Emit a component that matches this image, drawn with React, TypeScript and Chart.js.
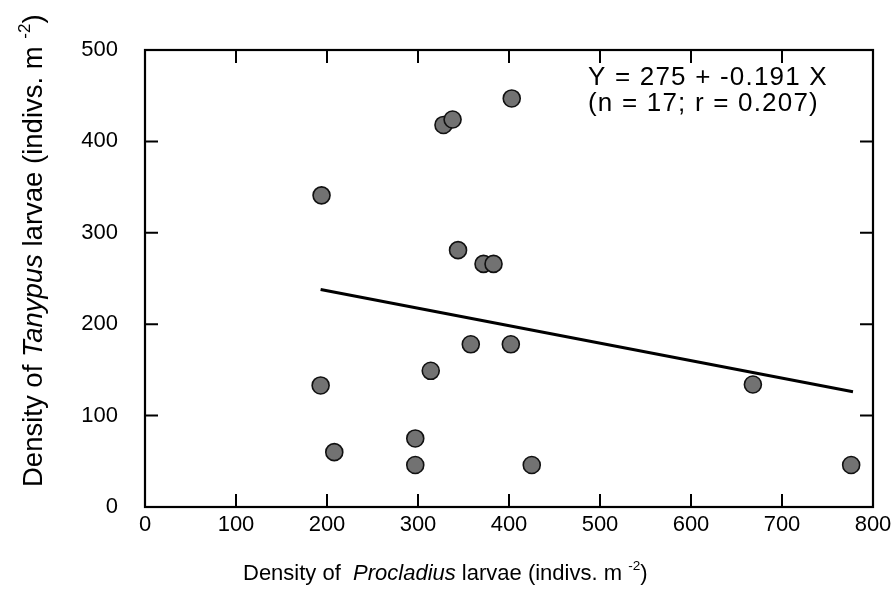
import React, { useEffect, useRef } from "react";
import { Chart, registerables } from "chart.js";

Chart.register(...registerables);

// Data
const proclDensity = [403, 328, 338, 194, 344, 372, 383, 358, 402, 314, 193, 297, 208, 297, 425, 668, 776];
const tanypDensity = [447, 418, 424, 341, 281, 266, 266, 178, 178, 149, 133, 75, 60, 46, 46, 134, 46];

// Regression line endpoints (Y = 275 + -0.191 X)
const regX = [193, 778];
const regY = [238, 126];

const xTickValues = [0, 100, 200, 300, 400, 500, 600, 700, 800];
const yTickValues = [0, 100, 200, 300, 400, 500];

const equationLines = ["Y = 275 + -0.191 X", "(n = 17; r = 0.207)"];

type Seg = { t: string; italic?: boolean; sup?: boolean };
const yTitle: Seg[] = [
  { t: "Density of " },
  { t: "Tanypus", italic: true },
  { t: " larvae (indivs. m " },
  { t: "-2", sup: true },
  { t: ")" },
];
const xTitle: Seg[] = [
  { t: "Density of  " },
  { t: "Procladius", italic: true },
  { t: " larvae (indivs. m " },
  { t: "-2", sup: true },
  { t: ")" },
];

const FONT = '"Liberation Sans", Arial, Helvetica, sans-serif';

function drawSegs(ctx: CanvasRenderingContext2D, segs: Seg[], size: number) {
  let x = 0;
  for (const s of segs) {
    const fs = s.sup ? size * 0.62 : size;
    ctx.font = `${s.italic ? "italic " : ""}${fs}px ${FONT}`;
    const dy = s.sup ? -size * 0.45 : 0;
    ctx.fillText(s.t, x, dy);
    x += ctx.measureText(s.t).width;
  }
}

const framePlugin = {
  id: "framePlugin",
  afterDraw(chart: any) {
    const { ctx, chartArea } = chart;
    const { left, right, top, bottom } = chartArea;
    const xs = chart.scales.x;
    const ys = chart.scales.y;
    ctx.save();
    ctx.strokeStyle = "#000";
    ctx.lineWidth = 2.2;
    ctx.strokeRect(left, top, right - left, bottom - top);
    const tl = 13;
    ctx.lineWidth = 2;
    ctx.beginPath();
    for (const v of xTickValues) {
      if (v === xs.min || v === xs.max) continue;
      const px = xs.getPixelForValue(v);
      ctx.moveTo(px, bottom);
      ctx.lineTo(px, bottom - tl);
      ctx.moveTo(px, top);
      ctx.lineTo(px, top + tl);
    }
    for (const v of yTickValues) {
      if (v === ys.min || v === ys.max) continue;
      const py = ys.getPixelForValue(v);
      ctx.moveTo(left, py);
      ctx.lineTo(left + tl, py);
      ctx.moveTo(right, py);
      ctx.lineTo(right - tl, py);
    }
    ctx.stroke();

    ctx.fillStyle = "#000";
    ctx.textBaseline = "alphabetic";
    ctx.textAlign = "left";

    // Equation
    ctx.font = `26px ${FONT}`;
    (ctx as any).letterSpacing = "1.2px";
    ctx.fillText(equationLines[0], 588, 85);
    ctx.fillText(equationLines[1], 588, 111);
    (ctx as any).letterSpacing = "0px";

    // Y title
    ctx.save();
    ctx.translate(42, 487);
    ctx.rotate(-Math.PI / 2);
    drawSegs(ctx, yTitle, 27.5);
    ctx.restore();

    // X title
    ctx.save();
    ctx.translate(243, 580);
    drawSegs(ctx, xTitle, 22);
    ctx.restore();

    ctx.restore();
  },
};

export default function App() {
  const ref = useRef<HTMLCanvasElement | null>(null);
  useEffect(() => {
    document.body.style.margin = "0";
    const canvas = ref.current!;
    const chart = new Chart(canvas, {
      type: "scatter",
      data: {
        datasets: [
          {
            type: "line",
            data: regX.map((x, i) => ({ x, y: regY[i] })),
            borderColor: "#000",
            borderWidth: 3,
            pointRadius: 0,
            fill: false,
            order: 2,
          } as any,
          {
            data: proclDensity.map((x, i) => ({ x, y: tanypDensity[i] })),
            backgroundColor: "#727272",
            borderColor: "#111",
            borderWidth: 1.6,
            pointRadius: 8.5,
            pointHoverRadius: 8.5,
            order: 1,
          },
        ],
      },
      options: {
        responsive: false,
        animation: false,
        layout: { padding: { top: 50, right: 21, left: 0, bottom: 0 } },
        plugins: { legend: { display: false }, tooltip: { enabled: false } },
        scales: {
          x: {
            type: "linear",
            min: 0,
            max: 800,
            afterBuildTicks: (s: any) => {
              s.ticks = xTickValues.map((v) => ({ value: v }));
            },
            afterFit: (s: any) => {
              s.height = 89;
            },
            grid: { display: false },
            border: { display: false },
            ticks: {
              font: { size: 22, family: FONT },
              color: "#000",
              padding: -3,
              maxRotation: 0,
            },
          },
          y: {
            type: "linear",
            min: 0,
            max: 500,
            afterBuildTicks: (s: any) => {
              s.ticks = yTickValues.map((v) => ({ value: v }));
            },
            afterFit: (s: any) => {
              s.width = 145;
            },
            grid: { display: false },
            border: { display: false },
            ticks: {
              font: { size: 22, family: FONT },
              color: "#000",
              padding: 19,
            },
          },
        },
      },
      plugins: [framePlugin],
    });
    return () => chart.destroy();
  }, []);
  return (
    <div style={{ width: 894, height: 596 }}>
      <canvas ref={ref} width={894} height={596} style={{ display: "block" }} />
    </div>
  );
}
